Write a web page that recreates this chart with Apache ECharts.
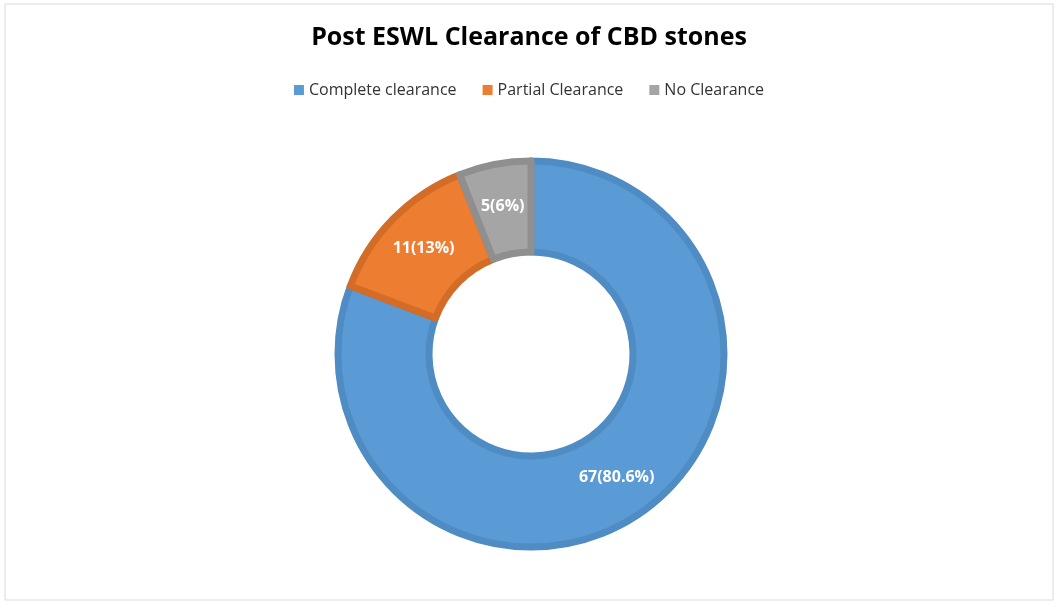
<!DOCTYPE html>
<html><head><meta charset="utf-8">
<script src="https://cdn.jsdelivr.net/npm/echarts@6/dist/echarts.min.js"></script>
<style>html,body{margin:0;padding:0;background:#fff}#c{width:1058px;height:604px}</style>
</head><body><div id="c"></div>
<script>
const categories = ['Complete clearance', 'Partial Clearance', 'No Clearance'];
const counts = [67, 11, 5];
const percentLabels = ['80.6%', '13%', '6%'];
const colors = ['#5B9BD5', '#ED7D31', '#A5A5A5'];
const borders = ['#4F8CC4', '#D36C27', '#8F8F8F'];

const chart = echarts.init(document.getElementById('c'));
chart.setOption({
  animation: false,
  textStyle: { fontFamily: 'Open Sans' },
  graphic: [{ type: 'rect', shape: { x: 5, y: 4, width: 1048, height: 596 },
    style: { fill: 'none', stroke: '#d9d9d9', lineWidth: 1 } }],
  title: { text: 'Post ESWL Clearance of CBD stones', left: 'center', top: 20,
    textStyle: { fontSize: 25, fontWeight: 'bold', color: '#000', fontFamily: 'Open Sans' } },
  legend: { top: 77, left: 'center', itemWidth: 10, itemHeight: 10, itemGap: 26,
    icon: 'rect', itemStyle: { borderWidth: 0 }, textStyle: { fontSize: 16, color: '#333' }, data: categories },
  series: [{
    type: 'pie', center: [531, 354], radius: [102, 193], startAngle: 90,
    label: { show: true, position: 'inside', color: '#fff', fontSize: 16, fontWeight: 'bold',
      formatter: p => counts[p.dataIndex] + '(' + percentLabels[p.dataIndex] + ')' },
    labelLine: { show: false },
    data: categories.map((n, i) => ({ name: n, value: counts[i],
      itemStyle: { color: colors[i], borderColor: borders[i], borderWidth: 7 } }))
  }]
});
</script></body></html>
